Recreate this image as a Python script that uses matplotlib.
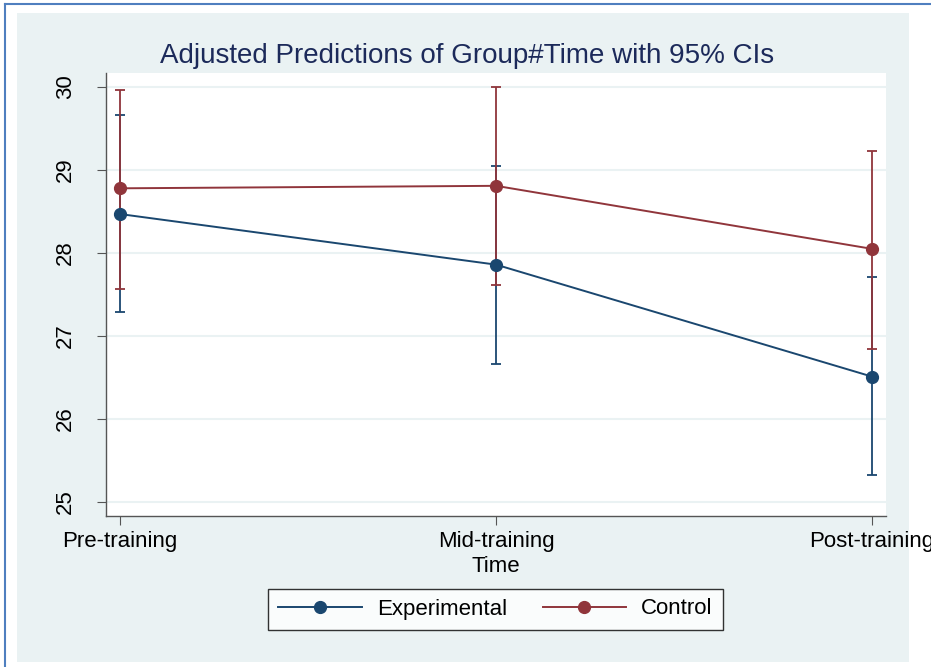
import numpy as np
from matplotlib import pyplot as plt
from matplotlib.patches import Rectangle
from matplotlib.lines import Line2D

# data
time_labels = ["Pre-training", "Mid-training", "Post-training"]
exp_mean = [28.47, 27.86, 26.51]
exp_lo = [27.29, 26.66, 25.32]
exp_hi = [29.66, 29.05, 27.71]
ctl_mean = [28.78, 28.81, 28.05]
ctl_lo = [27.57, 27.61, 26.84]
ctl_hi = [29.96, 30.00, 29.23]
yticks = [25, 26, 27, 28, 29, 30]

navy = "#1a476f"
maroon = "#90353b"
panel = "#eaf2f3"

plt.rcParams['font.family'] = ['Liberation Sans', 'DejaVu Sans']

fig = plt.figure(figsize=(9.31, 6.67), dpi=100)

# graph region (Stata style) and outer border
fig.patches.append(Rectangle((17 / 931, 1 - 662 / 667), (909 - 17) / 931, (662 - 13) / 667,
                             transform=fig.transFigure, facecolor=panel, edgecolor="none", zorder=-5))
fig.lines.append(Line2D([5 / 931, 1], [1 - 3.5 / 667, 1 - 3.5 / 667], transform=fig.transFigure,
                        color="#4f7fbf", lw=1.5))
fig.lines.append(Line2D([5 / 931, 5 / 931], [0, 1 - 3.5 / 667], transform=fig.transFigure,
                        color="#4f7fbf", lw=1.5))

ax = fig.add_axes([106 / 931, 1 - 516 / 667, (886 - 106) / 931, (516 - 73) / 667])
ax.set_facecolor("white")

x = np.arange(len(time_labels))

def ci(mean, lo, hi, color):
    mean = np.array(mean)
    err = [mean - np.array(lo), np.array(hi) - mean]
    ax.errorbar(x, mean, yerr=err, fmt="none", ecolor=color, elinewidth=1.3,
                capsize=3.8, capthick=1.3, zorder=2)

ci(exp_mean, exp_lo, exp_hi, navy)
ci(ctl_mean, ctl_lo, ctl_hi, maroon)
ax.plot(x, exp_mean, "-o", color=navy, lw=1.4, ms=8.5, label="Experimental", zorder=3)
ax.plot(x, ctl_mean, "-o", color=maroon, lw=1.4, ms=8.5, label="Control", zorder=3)

ax.set_xlim(-0.037, 2.037)
ax.set_ylim(24.83, 30.17)
ax.set_yticks(yticks)
ax.set_yticklabels([str(t) for t in yticks], rotation=90, va="center")
ax.set_xticks(x)
ax.set_xticklabels(time_labels)
ax.grid(axis="y", color=panel, lw=1.5)
ax.set_axisbelow(True)
for s in ["top", "right"]:
    ax.spines[s].set_visible(False)
for s in ["left", "bottom"]:
    ax.spines[s].set_color("#555555")
    ax.spines[s].set_linewidth(1.0)
ax.tick_params(length=6.5, color="#555555", labelsize=16, labelcolor="black")
ax.tick_params(axis="y", pad=15)
ax.tick_params(axis="x", pad=4)
for lab in ax.get_xticklabels():
    lab.set_clip_on(False)

ax.set_xlabel("Time", fontsize=16, labelpad=3)
fig.text(0.5 * (157 + 778) / 931, 1 - 56 / 667, "Adjusted Predictions of Group#Time with 95% CIs",
         ha="center", va="center", fontsize=20, color="#1c2a5a")

leg = fig.legend(loc="center", bbox_to_anchor=(495.5 / 931, 58 / 667), ncol=2, fontsize=16,
                 frameon=True, fancybox=False, edgecolor="black", handlelength=3.75,
                 handletextpad=0.68, columnspacing=1.6, borderpad=0.45)
leg.get_frame().set_linewidth(1.0)

fig.savefig("out.png", dpi=100)
